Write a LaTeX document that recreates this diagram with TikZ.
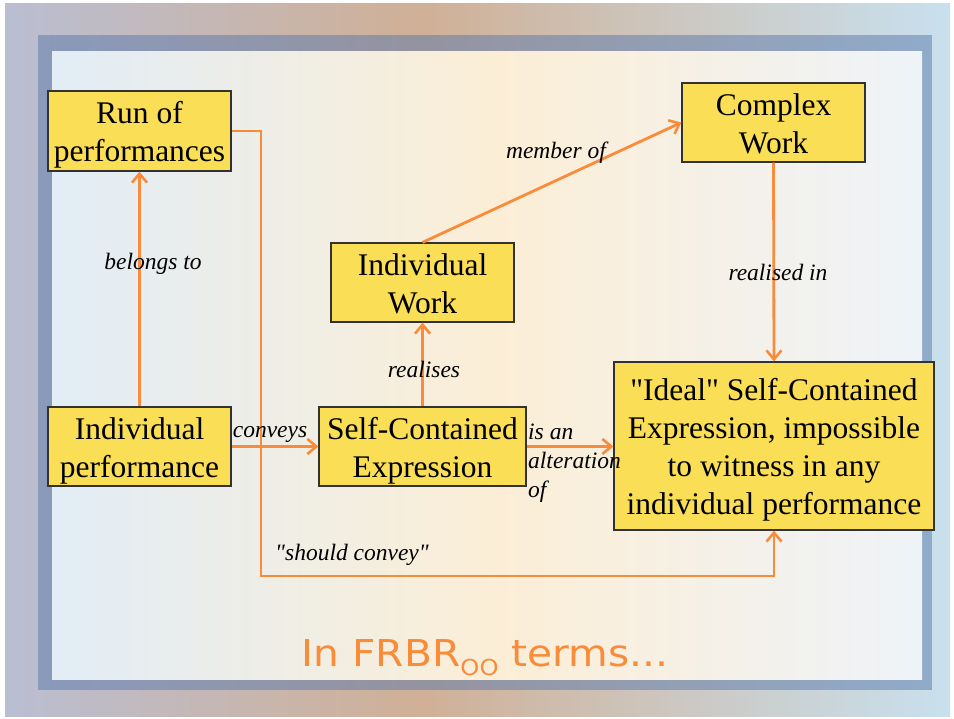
\documentclass[tikz,border=0pt]{standalone}
\usepackage{fontspec}
\setmainfont{Liberation Serif}[Ligatures=TeXOff]
\newfontfamily\titlefont{DejaVu Sans}
\usetikzlibrary{arrows.meta}
\definecolor{lineorange}{RGB}{248,140,58}
\definecolor{boxyellow}{RGB}{250,222,85}
\definecolor{boxedge}{RGB}{50,50,50}
\definecolor{outerL}{RGB}{186,190,210}
\definecolor{outerM}{RGB}{208,176,150}
\definecolor{outerR}{RGB}{200,224,238}
\definecolor{bandcol}{RGB}{90,120,170}
\definecolor{innerL}{RGB}{226,237,246}
\definecolor{innerM}{RGB}{252,238,214}
\definecolor{innerR}{RGB}{238,243,248}
\newcommand{\boxtext}[1]{\raisebox{-4pt}[\height][\depth]{\begin{tabular}{@{}c@{}}#1\end{tabular}}}
\tikzset{
  box/.style={draw=boxedge, line width=1.2pt, fill=boxyellow, inner sep=0pt,
    font=\fontsize{31.5}{38.2}\selectfont},
  conn/.style={draw=lineorange, line width=2.8pt,
    -{Straight Barb[length=9pt,width=15pt,line width=2.6pt]}},
  lbl/.style={inner sep=0pt, font=\fontsize{23.5}{29}\selectfont\itshape},
}
\begin{document}
\begin{tikzpicture}[x=1pt,y=-1pt]
\useasboundingbox (0,0) rectangle (954,719);
% background
\fill[white] (0,0) rectangle (954,719);
\shade[left color=outerL, right color=outerM] (5,4) rectangle (420,716);
\shade[left color=outerM, right color=outerR] (420,4) rectangle (950,716);
\fill[bandcol, opacity=0.5] (38,35) rectangle (932,690);
\shade[left color=innerL, right color=innerM] (52,52) rectangle (500,679);
\shade[left color=innerM, right color=innerR] (500,52) rectangle (922,679);

% nodes
\node[box, minimum width=183, minimum height=80] (run) at (139.5,131) {\boxtext{Run of\\performances}};
\node[box, minimum width=183, minimum height=79] (complex) at (773.5,122.5) {\boxtext{Complex\\Work}};
\node[box, minimum width=183, minimum height=79] (indwork) at (422.5,282.5) {\boxtext{Individual\\Work}};
\node[box, minimum width=183, minimum height=79] (indperf) at (139.5,446.5) {\boxtext{Individual\\performance}};
\node[box, minimum width=207, minimum height=79] (sce) at (422.5,446.5) {\boxtext{Self-Contained\\Expression}};
\node[box, minimum width=320, minimum height=168] (ideal) at (774,446) {\boxtext{"Ideal" Self-Contained\\Expression, impossible\\to witness in any\\individual performance}};

\coordinate (sc1) at (261,576);

% connectors
\draw[conn] (indperf.north) -- (run.south);
\draw[conn] (run.east) -| (sc1) -| (ideal.south);
\draw[conn] (indperf.east) -- (sce.west);
\draw[conn] (sce.north) -- (indwork.south);
\draw[conn] (indwork.north) -- (complex.west);
\draw[conn] (complex.south) -- (ideal.north);
\draw[conn] (sce.east) -- (sce.east -| ideal.west);

% labels
\node[lbl] (l1) at (153,264) {belongs to};
\node[lbl] (l2) at (270,434) {conveys};
\node[lbl] (l3) at (424,369) {realises};
\node[lbl] (l4) at (556,153) {member of};
\node[lbl] (l5) at (778,272) {realised in};
\node[lbl] (l6) at (352,555) {"should convey"};
\node[lbl, align=left, anchor=west] (l7) at (528,463) {is an\\alteration\\of};

% title
\node[inner sep=0pt, text=lineorange, font=\titlefont\fontsize{37}{44}\selectfont] (title) at (485,658) {\scalebox{1.1}[1]{In FRBR\raisebox{-9pt}{\fontsize{22}{22}\selectfont OO} terms...}};
\end{tikzpicture}
\end{document}
